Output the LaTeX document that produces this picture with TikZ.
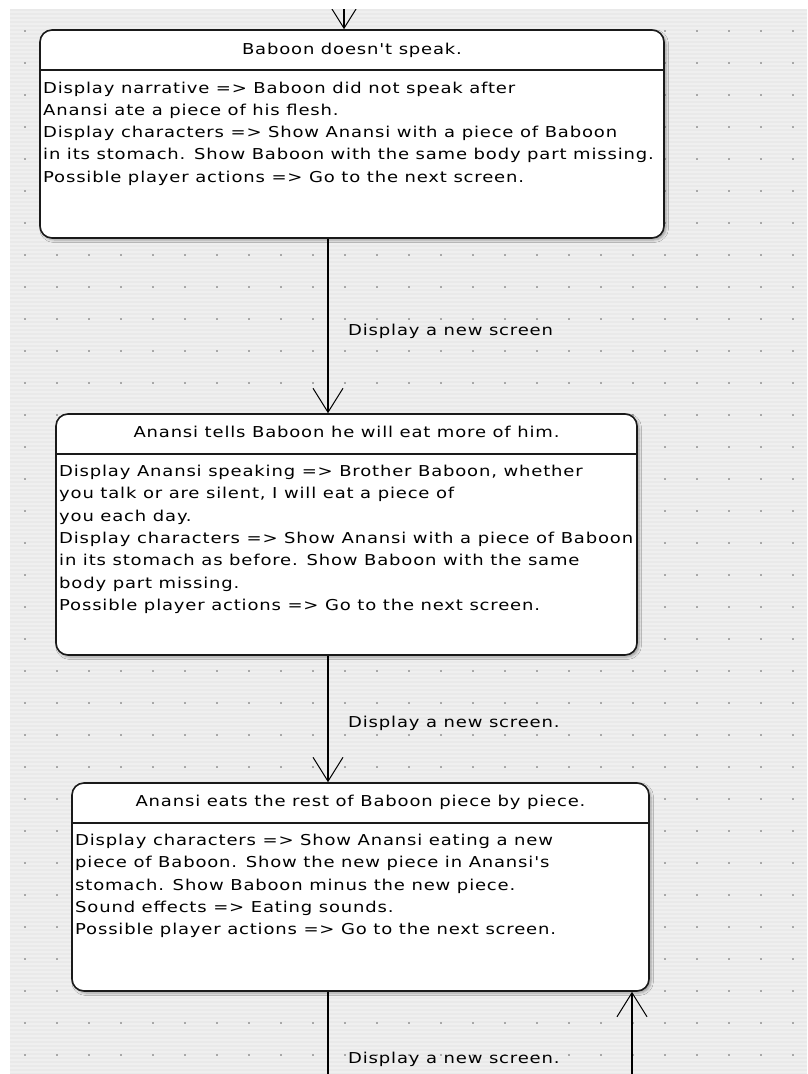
\documentclass[tikz,border=0pt]{standalone}
\usepackage{fontspec}
\newfontfamily\gen{DejaVu Sans}[FakeStretch=1.2,LetterSpace=5.5]
\usetikzlibrary{arrows.meta,shadows.blur}
\definecolor{bggrey}{HTML}{EFEFEF}
\definecolor{stripe}{HTML}{E9E9E9}
\definecolor{dotgrey}{HTML}{A8A8A8}
\definecolor{edge}{HTML}{1A1A1A}
\newcommand{\apos}{{\char"27}}
\begin{document}
\begin{tikzpicture}[x=1pt,y=-1pt,
  box/.style={draw=edge, line width=1.6pt, fill=white, rounded corners=12pt, inner sep=0pt,
    blur shadow={shadow xshift=2pt, shadow yshift=-2pt, shadow blur radius=2.5pt, shadow opacity=35}},
  hdr/.style={draw=edge, line width=1.4pt},
  conn/.style={draw=black, line width=1.3pt},
  arr/.style={conn, -{Straight Barb[length=24pt,width=30pt,line width=1pt]}},
  txt/.style={inner sep=0pt, anchor=base west, font=\gen\fontsize{15}{22}\selectfont},
  ttl/.style={inner sep=0pt, anchor=base, font=\gen\fontsize{15}{22}\selectfont},
  lbl/.style={inner sep=0pt, anchor=base west, font=\gen\fontsize{15}{22}\selectfont}]
\useasboundingbox (0,0) rectangle (807,1074);
\fill[white] (0,0) rectangle (807,1074);
\begin{scope}
\clip (10,9) rectangle (807,1074);
\fill[bggrey] (10,9) rectangle (807,1074);
\foreach \y in {10,14,...,1074} \draw[stripe, line width=1.5pt] (10,\y) -- (807,\y);
\foreach \x in {25.3,57.3,...,807} \foreach \y in {30.5,62.5,...,1074}
  \fill[dotgrey] (\x-1,\y-1) rectangle +(2,2);

\coordinate (topc) at (344,0);
\coordinate (c1) at (328,0);
\coordinate (bot1) at (328,1074);
\coordinate (bot2) at (632,1074);

% boxes
\node[box, minimum width=624pt, minimum height=208pt] (b1) at (352,134) {};
\node[box, minimum width=581pt, minimum height=241pt] (b2) at (346.5,534.5) {};
\node[box, minimum width=577pt, minimum height=208pt] (b3) at (360.5,887) {};
\draw[hdr] (b1.west |- 0,70) -- (b1.east |- 0,70);
\draw[hdr] (b2.west |- 0,454) -- (b2.east |- 0,454);
\draw[hdr] (b3.west |- 0,823) -- (b3.east |- 0,823);

% titles
\node[ttl] (t1) at (352,54.5) {Baboon doesn\apos t speak.};
\node[ttl] (t2) at (346.5,437.5) {Anansi tells Baboon he will eat more of him.};
\node[ttl] (t3) at (360.5,806.5) {Anansi eats the rest of Baboon piece by piece.};

% body 1
\node[txt] (b1l1) at (43,93) {Display narrative => Baboon did not speak after};
\node[txt] (b1l2) at (43,115.3) {Anansi ate a piece of his flesh.};
\node[txt] (b1l3) at (43,137.6) {Display characters => Show Anansi with a piece of Baboon};
\node[txt] (b1l4) at (43,159.9) {in its stomach. Show Baboon with the same body part missing.};
\node[txt] (b1l5) at (43,182.2) {Possible player actions => Go to the next screen.};

% body 2
\node[txt] (b2l1) at (59,476.5) {Display Anansi speaking => Brother Baboon, whether};
\node[txt] (b2l2) at (59,498.8) {you talk or are silent, I will eat a piece of};
\node[txt] (b2l3) at (59,521.1) {you each day.};
\node[txt] (b2l4) at (59,543.4) {Display characters => Show Anansi with a piece of Baboon};
\node[txt] (b2l5) at (59,565.7) {in its stomach as before. Show Baboon with the same};
\node[txt] (b2l6) at (59,588) {body part missing.};
\node[txt] (b2l7) at (59,610.3) {Possible player actions => Go to the next screen.};

% body 3
\node[txt] (b3l1) at (75,845.5) {Display characters => Show Anansi eating a new};
\node[txt] (b3l2) at (75,867.8) {piece of Baboon. Show the new piece in Anansi\apos s};
\node[txt] (b3l3) at (75,890.1) {stomach. Show Baboon minus the new piece.};
\node[txt] (b3l4) at (75,912.4) {Sound effects => Eating sounds.};
\node[txt] (b3l5) at (75,934.7) {Possible player actions => Go to the next screen.};

% connectors
\draw[arr] (topc) -- (topc |- b1.north);
\draw[arr] (c1 |- b1.south) -- (c1 |- b2.north);
\draw[arr] (c1 |- b2.south) -- (c1 |- b3.north);
\draw[conn] (c1 |- b3.south) -- (bot1);
\draw[arr] (bot2) -- (bot2 |- b3.south);

% labels
\node[lbl] (l1) at (348,335) {Display a new screen};
\node[lbl] (l2) at (348,727.5) {Display a new screen.};
\node[lbl] (l3) at (348,1063) {Display a new screen.};
\end{scope}
\end{tikzpicture}
\end{document}
